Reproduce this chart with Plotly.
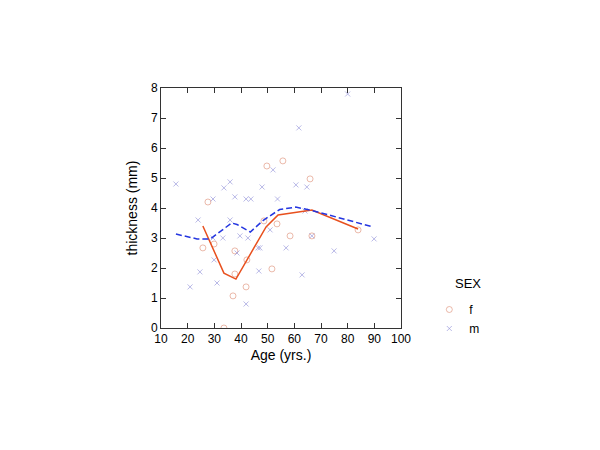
import plotly.graph_objects as go

# scatter data
f_age = [27.6, 25.7, 29.9, 33.6, 37.7, 37.7, 37.0, 41.9, 42.2, 48.6, 53.5, 51.6, 58.4,
         49.7, 55.7, 65.9, 66.6, 83.9]
f_thick = [4.2, 2.67, 2.8, 0.0, 2.57, 1.8, 1.07, 1.37, 2.27, 3.57, 3.47, 1.97, 3.07,
           5.4, 5.57, 4.97, 3.07, 3.27]

m_age = [15.6, 20.9, 24.6, 23.9, 29.5, 29.5, 33.2, 29.9, 31.0, 33.6, 35.9, 37.7, 41.9,
         43.7, 47.9, 53.7, 52.0, 35.9, 38.5, 39.6, 42.6, 41.9, 46.7, 46.4, 47.1, 50.9,
         56.9, 61.7, 60.6, 64.7, 66.6, 62.9, 74.9, 89.9, 64.0, 80.0]
m_thick = [4.8, 1.37, 1.87, 3.6, 4.3, 3.0, 3.0, 2.27, 1.5, 4.67, 4.87, 4.37, 4.3,
           4.3, 4.7, 4.3, 5.27, 3.6, 2.5, 3.07, 3.0, 0.8, 1.9, 2.67, 2.67, 3.27,
           2.67, 6.67, 4.77, 4.7, 3.07, 1.77, 2.57, 2.97, 3.9, 7.8]

# smoothed curves
f_line_age = [25.7, 33.6, 38.1, 49.4, 53.9, 58.4, 66.6, 83.9]
f_line_thick = [3.4, 1.83, 1.63, 3.37, 3.77, 3.83, 3.93, 3.3]

m_line_age = [15.6, 23.5, 28.5, 36.5, 38.5, 43.5, 48.5, 54.5, 60.5, 66.5, 89.5]
m_line_thick = [3.13, 2.97, 2.97, 3.5, 3.45, 3.2, 3.6, 3.95, 4.03, 3.92, 3.37]

x_ticks = [10, 20, 30, 40, 50, 60, 70, 80, 90, 100]
y_ticks = [0, 1, 2, 3, 4, 5, 6, 7, 8]

f_color = 'rgba(222,140,115,0.6)'
m_color = 'rgba(140,140,215,0.6)'

fig = go.Figure()

fig.add_trace(go.Scatter(
    x=f_age, y=f_thick, mode='markers', name='f',
    marker=dict(symbol='circle-open', size=6, color=f_color, line=dict(width=1))
))
fig.add_trace(go.Scatter(
    x=m_age, y=m_thick, mode='markers', name='m',
    marker=dict(symbol='x-thin-open', size=5, color=m_color,
                line=dict(width=1, color=m_color))
))
fig.add_trace(go.Scatter(
    x=f_line_age, y=f_line_thick, mode='lines', showlegend=False,
    line=dict(color='#e8501e', width=1.5)
))
fig.add_trace(go.Scatter(
    x=m_line_age, y=m_line_thick, mode='lines', showlegend=False,
    line=dict(color='#2436e0', width=1.5, dash='6px,3px')
))

axis_style = dict(
    showline=True, linecolor='#333333', linewidth=1, mirror='ticks',
    ticks='inside', ticklen=5, tickcolor='#333333', showgrid=False, zeroline=False,
    tickfont=dict(size=12, color='black')
)

fig.update_layout(
    width=600, height=450,
    margin=dict(l=153, r=207, t=80, b=130),
    paper_bgcolor='white', plot_bgcolor='white',
    font=dict(family='Arial, Liberation Sans', size=12, color='black'),
    xaxis=dict(range=[10, 100], tickvals=x_ticks, title=dict(text='Age (yrs.)', standoff=4),
               **axis_style),
    yaxis=dict(range=[0, 8], tickvals=y_ticks, title=dict(text='thickness (mm)', standoff=10),
               **axis_style),
    legend=dict(x=1.118, y=0.1375, xanchor='left', yanchor='top',
                font=dict(size=12), tracegroupgap=0, itemwidth=30),
    annotations=[dict(text='SEX', x=1.279, y=0.1875, xref='paper', yref='paper',
                      xanchor='center', yanchor='middle',
                      showarrow=False, font=dict(size=13))],
)

fig.write_html("out.html")
